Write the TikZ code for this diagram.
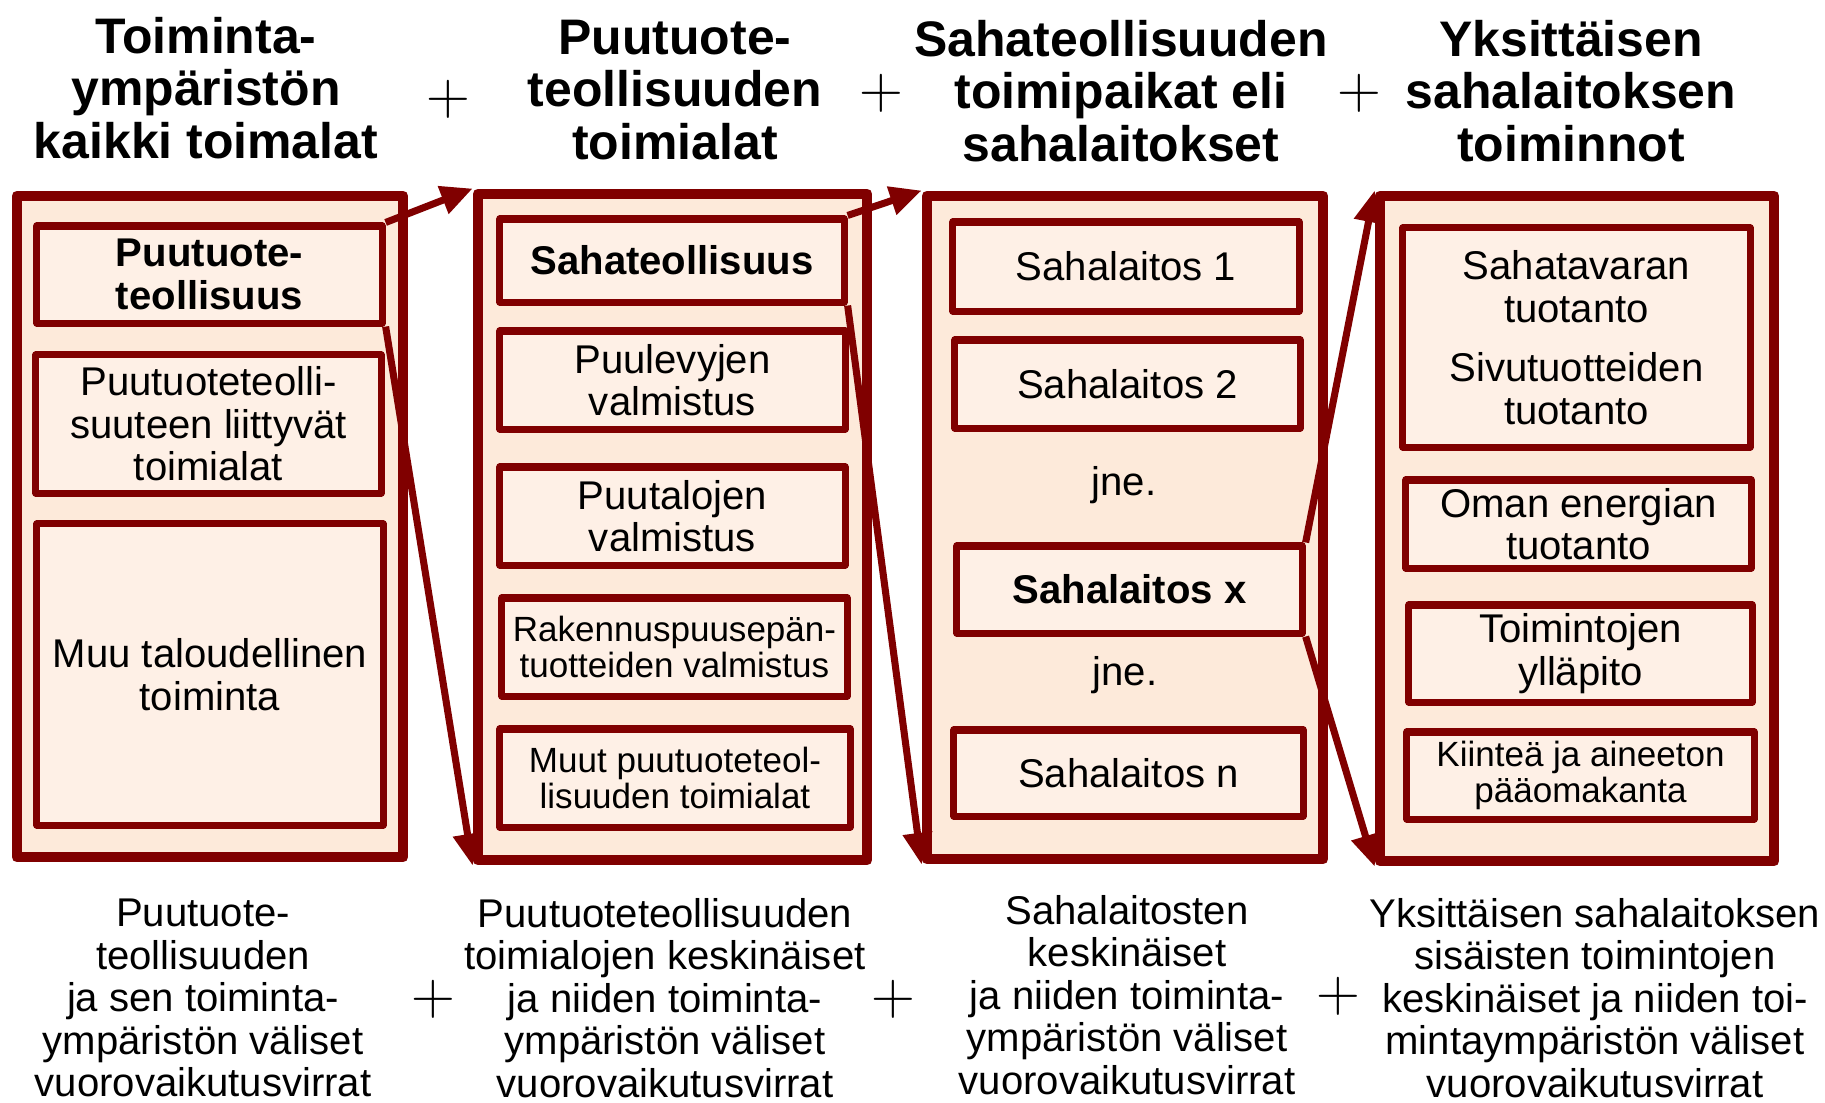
\documentclass[tikz,border=0pt]{standalone}
\usepackage{fontspec}
\setmainfont{Liberation Sans}
\usetikzlibrary{arrows.meta}
\definecolor{sahared}{RGB}{128,0,0}
\definecolor{outerfill}{RGB}{253,234,218}
\definecolor{innerfill}{RGB}{254,240,230}
\newcommand{\headfont}{\fontsize{14.2pt}{14.9pt}\selectfont\bfseries}
\newcommand{\boxfont}{\fontsize{11.4pt}{12.1pt}\selectfont}
\newcommand{\smallboxfont}{\fontsize{9.96pt}{10.25pt}\selectfont}
\newcommand{\plusfont}{\fontsize{18pt}{18pt}\selectfont}

\begin{document}
\begin{tikzpicture}[x=0.01cm, y=-0.01cm,
  outerbox/.style={draw=sahared, fill=outerfill, line width=3pt, line join=round, inner sep=0pt},
  innerbox/.style={draw=sahared, fill=innerfill, line width=2pt, line join=round, inner sep=0pt, align=center, font=\boxfont},
  headtext/.style={align=center, font=\headfont, inner sep=0pt},
  foottext/.style={align=center, font=\boxfont, inner sep=0pt},
  plussign/.style={font=\plusfont, inner sep=0pt},
  flowarrow/.style={draw=sahared, line width=2pt, -{Triangle[length=9pt,width=8pt]}}]
\useasboundingbox (0,0) rectangle (1825,1102);
\node[headtext] (head1) at (206,88) {Toiminta-\\ympäristön\\kaikki toimalat};
\node[headtext] (head2) at (675,90) {Puutuote-\\teollisuuden\\toimialat};
\node[headtext] (head3) at (1121,91) {Sahateollisuuden\\toimipaikat eli\\sahalaitokset};
\node[headtext] (head4) at (1571,91) {Yksittäisen\\sahalaitoksen\\toiminnot};
\node[plussign] (plus1) at (448,99) {$+$};
\node[plussign] (plus2) at (881,93) {$+$};
\node[plussign] (plus3) at (1359,93) {$+$};
\node[outerbox, minimum width=3.86cm, minimum height=6.61cm] (env) at (210,526.5) {};
\node[outerbox, minimum width=3.89cm, minimum height=6.66cm] (wood) at (672.5,527) {};
\node[outerbox, minimum width=3.96cm, minimum height=6.63cm] (mills) at (1125,527.5) {};
\node[outerbox, minimum width=3.94cm, minimum height=6.65cm] (mill) at (1577,528.5) {};
\node[innerbox, minimum width=3.45cm, minimum height=0.97cm, font=\boxfont\bfseries] (woodind) at (209.5,274.5) {Puutuote-\\teollisuus};
\node[innerbox, minimum width=3.45cm, minimum height=1.38cm] (related) at (208.5,424) {Puutuoteteolli-\\suuteen liittyvät\\toimialat};
\node[innerbox, minimum width=3.46cm, minimum height=3.01cm] (other) at (210,674.5) {Muu taloudellinen\\toiminta};
\node[innerbox, minimum width=3.44cm, minimum height=0.83cm, font=\boxfont\bfseries] (sawind) at (672,260.5) {Sahateollisuus};
\node[innerbox, minimum width=3.45cm, minimum height=0.98cm] (panels) at (672.5,380) {Puulevyjen\\valmistus};
\node[innerbox, minimum width=3.45cm, minimum height=0.98cm] (houses) at (672.5,516) {Puutalojen\\valmistus};
\node[innerbox, minimum width=3.45cm, minimum height=0.98cm, font=\smallboxfont] (joinery) at (674.5,647) {Rakennuspuusepän-\\tuotteiden valmistus};
\node[innerbox, minimum width=3.50cm, minimum height=0.98cm, font=\smallboxfont] (otherwood) at (675,778) {Muut puutuoteteol-\\lisuuden toimialat};
\node[innerbox, minimum width=3.46cm, minimum height=0.89cm] (mill1) at (1126,266.5) {Sahalaitos 1};
\node[innerbox, minimum width=3.45cm, minimum height=0.88cm] (mill2) at (1127.5,384) {Sahalaitos 2};
\node[foottext] (etc1) at (1124,485) {jne.};
\node[innerbox, minimum width=3.45cm, minimum height=0.87cm, font=\boxfont\bfseries] (millx) at (1129.5,589.5) {Sahalaitos x};
\node[foottext] (etc2) at (1125,675) {jne.};
\node[innerbox, minimum width=3.49cm, minimum height=0.86cm] (milln) at (1128.5,773) {Sahalaitos n};
\node[innerbox, minimum width=3.47cm, minimum height=2.19cm] (products) at (1576.5,337.5) {Sahatavaran\\tuotanto\\[0.17cm]Sivutuotteiden\\tuotanto};
\node[innerbox, minimum width=3.45cm, minimum height=0.88cm] (energy) at (1578.5,524) {Oman energian\\tuotanto};
\node[innerbox, minimum width=3.43cm, minimum height=0.97cm] (upkeep) at (1580.5,653.5) {Toimintojen\\ylläpito};
\node[innerbox, minimum width=3.47cm, minimum height=0.87cm, font=\smallboxfont] (capital) at (1580.5,775.5) {Kiinteä ja aineeton\\pääomakanta};
\draw[flowarrow] (woodind.north east) -- (wood.north west);
\draw[flowarrow] (woodind.south east) -- (wood.south west);
\draw[flowarrow] (sawind.north east) -- (mills.north west);
\draw[flowarrow] (sawind.south east) -- (mills.south west);
\draw[flowarrow] (millx.north east) -- (mill.north west);
\draw[flowarrow] (millx.south east) -- (mill.south west);
\node[foottext] (foot1) at (203,998) {Puutuote-\\teollisuuden\\ja sen toiminta-\\ympäristön väliset\\vuorovaikutusvirrat};
\node[foottext] (foot2) at (665,998) {Puutuoteteollisuuden\\toimialojen keskinäiset\\ja niiden toiminta-\\ympäristön väliset\\vuorovaikutusvirrat};
\node[foottext] (foot3) at (1127,995) {Sahalaitosten\\keskinäiset\\ja niiden toiminta-\\ympäristön väliset\\vuorovaikutusvirrat};
\node[foottext] (foot4) at (1595,998) {Yksittäisen sahalaitoksen\\sisäisten toimintojen\\keskinäiset ja niiden toi-\\mintaympäristön väliset\\vuorovaikutusvirrat};
\node[plussign] (plus4) at (433,999) {$+$};
\node[plussign] (plus5) at (893,999) {$+$};
\node[plussign] (plus6) at (1338,996) {$+$};
\end{tikzpicture}
\end{document}
